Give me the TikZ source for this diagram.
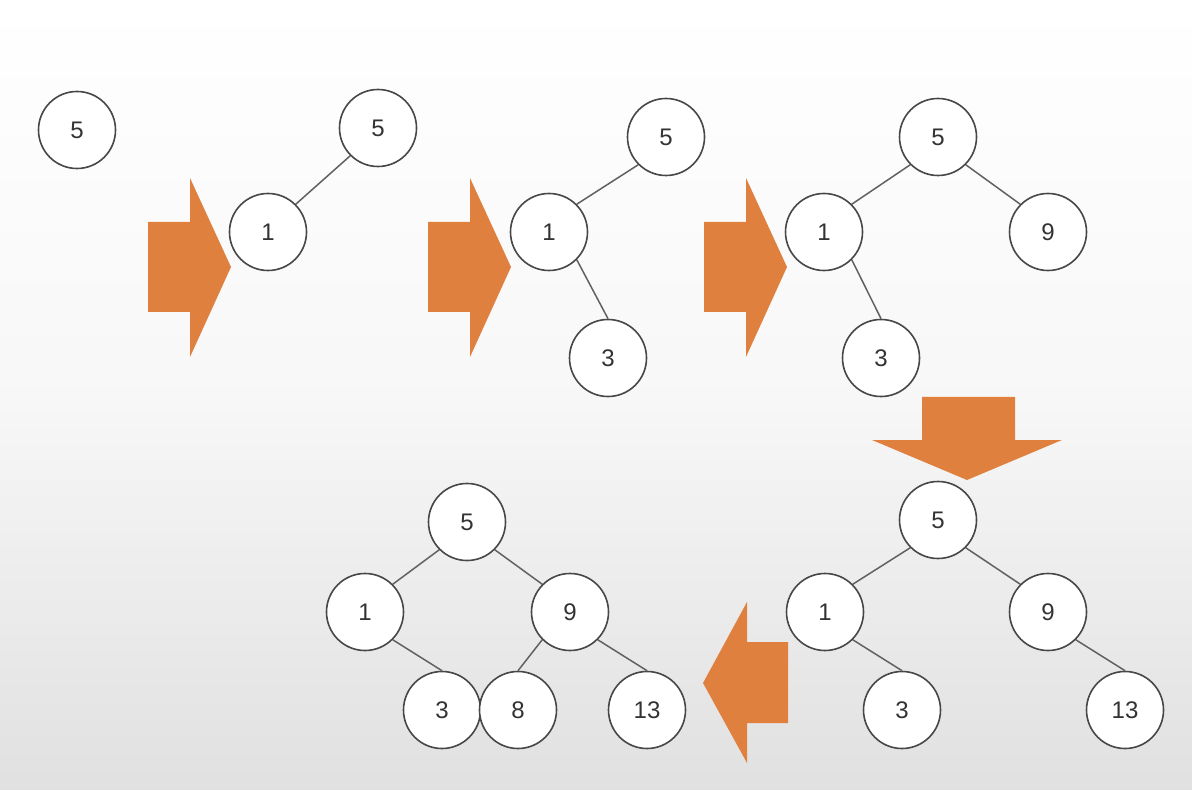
\documentclass[tikz,border=0pt]{standalone}
\usepackage{fontspec}
\setmainfont{Liberation Sans}
\usetikzlibrary{positioning}
\definecolor{arrowfill}{HTML}{E0803E}
\tikzset{
  key/.style={circle,draw=black!72,line width=0.8pt,fill=white,minimum size=38.5pt,inner sep=0pt,text=black!80,font=\fontsize{12}{14}\selectfont},
  link/.style={draw=black!62,line width=0.75pt},
  bigarrow/.style={fill=arrowfill}
}
\begin{document}
\begin{tikzpicture}[x=0.5pt,y=-0.5pt]
\shade[top color=white,bottom color=black!12,middle color=black!3] (0,0) rectangle (1192,790);
\useasboundingbox (0,0) rectangle (1192,790);
% block arrows
\foreach \ox in {0,280,556}
  \fill[bigarrow,xshift=\ox*0.5pt] (148,222) -- (190,222) -- (190,178) -- (231,267)
    -- (190,357) -- (190,312) -- (148,312) -- cycle;
\fill[bigarrow] (922,397) -- (1015,397) -- (1015,440) -- (1062,440) -- (967,480)
  -- (872,440) -- (922,440) -- cycle;
\fill[bigarrow] (788,642) -- (788,723) -- (747,723) -- (747,763) -- (703,683)
  -- (747,602) -- (747,642) -- cycle;
%
\node (a5) [key] at (77,130) {5};
%
\node (b5) [key] at (378,128) {5};
\node (b1) [key] at (268,232) {1};
%
\node (c5) [key] at (666,137) {5};
\node (c1) [key] at (549,232) {1};
\node (c3) [key] at (608,358) {3};
%
\node (d5) [key] at (938,137) {5};
\node (d1) [key] at (824,232) {1};
\node (d9) [key] at (1048,232) {9};
\node (d3) [key] at (881,358) {3};
%
\node (e5) [key] at (938,520) {5};
\node (e1) [key] at (825,612) {1};
\node (e9) [key] at (1048,612) {9};
\node (e3) [key] at (902,710) {3};
\node (e13) [key] at (1125,710) {13};
%
\node (f5) [key] at (467,522) {5};
\node (f1) [key] at (365,612) {1};
\node (f9) [key] at (570,612) {9};
\node (f3) [key] at (442,710) {3};
\node (f8) [key] at (518,710) {8};
\node (f13) [key] at (647,710) {13};
%
\path[link]
(b5.south west) edge (b1.north east)
(c5.south west) edge (c1.north east)
(c1.south east) edge (c3.north)
(d5.south west) edge (d1.north east)
(d5.south east) edge (d9.north west)
(d1.south east) edge (d3.north)
(e5.south west) edge (e1.north east)
(e5.south east) edge (e9.north west)
(e1.south east) edge (e3.north)
(e9.south east) edge (e13.north)
(f5.south west) edge (f1.north east)
(f5.south east) edge (f9.north west)
(f1.south east) edge (f3.north)
(f9.south west) edge (f8.north)
(f9.south east) edge (f13.north)
;
\end{tikzpicture}
\end{document}
